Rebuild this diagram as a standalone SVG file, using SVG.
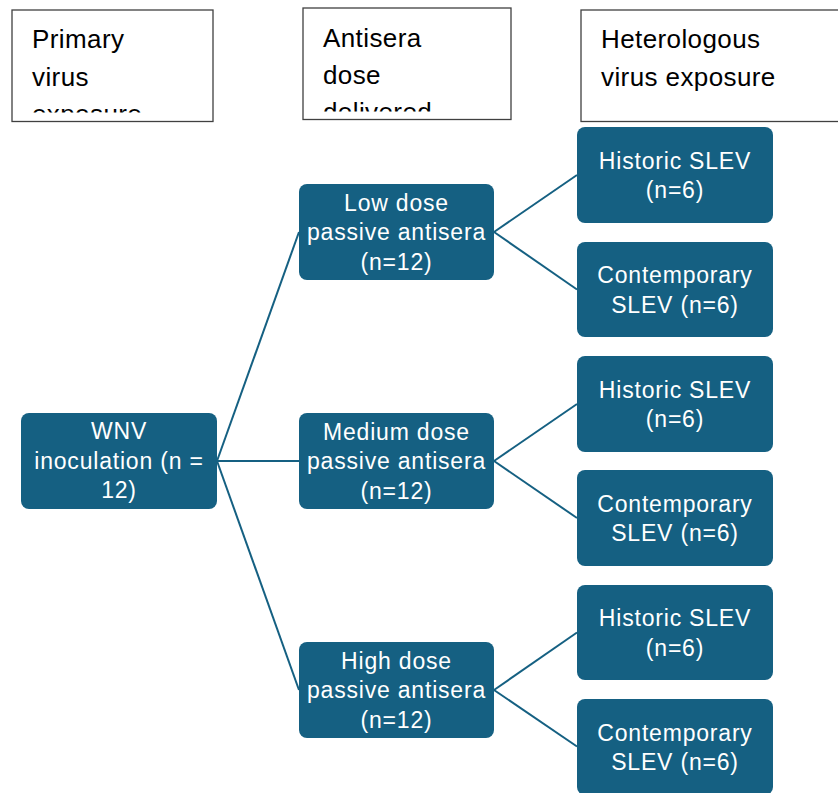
<svg xmlns="http://www.w3.org/2000/svg" width="838" height="793" viewBox="0 0 838 793">
  <style>
    .hdr { fill: #ffffff; stroke: #404040; stroke-width: 1.3; }
    .htxt { font-family: "Liberation Sans", Arial, sans-serif; font-size: 26px; letter-spacing: 0.4px; fill: #000000; }
    .node rect { fill: #156082; }
    .ntxt { font-family: "Liberation Sans", Arial, sans-serif; font-size: 23px; letter-spacing: 0.8px; fill: #ffffff; text-anchor: middle; }
    .conn line { stroke: #156082; stroke-width: 2; }
  </style>
  <defs>
    <clipPath id="clip1"><rect x="12" y="10" width="201" height="102.5"/></clipPath>
    <clipPath id="clip2"><rect x="303" y="8" width="208" height="103.5"/></clipPath>
    <clipPath id="clip3"><rect x="581" y="10" width="257" height="102.5"/></clipPath>
  </defs>

  <g id="header-primary">
    <rect class="hdr" x="12" y="10" width="201" height="111.5"/>
    <text class="htxt" clip-path="url(#clip1)"><tspan x="32" y="48">Primary</tspan><tspan x="32" y="86">virus</tspan><tspan x="32" y="123">exposure</tspan></text>
  </g>
  <g id="header-antisera">
    <rect class="hdr" x="303" y="8" width="208" height="111.5"/>
    <text class="htxt" clip-path="url(#clip2)"><tspan x="323" y="47">Antisera</tspan><tspan x="323" y="84">dose</tspan><tspan x="323" y="121">delivered</tspan></text>
  </g>
  <g id="header-heterologous">
    <rect class="hdr" x="581" y="10" width="262" height="111.5"/>
    <text class="htxt" clip-path="url(#clip3)"><tspan x="601" y="48">Heterologous</tspan><tspan x="601" y="85.5">virus exposure</tspan></text>
  </g>

  <g id="connectors" class="conn">
    <line x1="217" y1="461" x2="299" y2="232"/>
    <line x1="217" y1="461" x2="299" y2="461"/>
    <line x1="217" y1="461" x2="299" y2="690"/>
    <line x1="494" y1="232" x2="577" y2="175"/>
    <line x1="494" y1="232" x2="577" y2="289.5"/>
    <line x1="494" y1="461" x2="577" y2="404"/>
    <line x1="494" y1="461" x2="577" y2="518"/>
    <line x1="494" y1="690" x2="577" y2="632.5"/>
    <line x1="494" y1="690" x2="577" y2="746.5"/>
  </g>

  <g id="wnv" class="node">
    <rect x="21" y="413" width="196" height="96" rx="8"/>
    <text class="ntxt"><tspan x="119" y="439">WNV</tspan><tspan x="119" y="468.5">inoculation (n =</tspan><tspan x="119" y="498">12)</tspan></text>
  </g>

  <g id="low-dose" class="node">
    <rect x="299" y="184" width="195" height="96" rx="8"/>
    <text class="ntxt"><tspan x="396.5" y="210.5">Low dose</tspan><tspan x="396.5" y="240">passive antisera</tspan><tspan x="396.5" y="269.5">(n=12)</tspan></text>
  </g>
  <g id="medium-dose" class="node">
    <rect x="299" y="413" width="195" height="96" rx="8"/>
    <text class="ntxt"><tspan x="396.5" y="439.5">Medium dose</tspan><tspan x="396.5" y="469">passive antisera</tspan><tspan x="396.5" y="498.5">(n=12)</tspan></text>
  </g>
  <g id="high-dose" class="node">
    <rect x="299" y="642" width="195" height="96" rx="8"/>
    <text class="ntxt"><tspan x="396.5" y="668.5">High dose</tspan><tspan x="396.5" y="698">passive antisera</tspan><tspan x="396.5" y="727.5">(n=12)</tspan></text>
  </g>

  <g id="low-historic" class="node">
    <rect x="577" y="127" width="196" height="96" rx="8"/>
    <text class="ntxt"><tspan x="675" y="168.5">Historic SLEV</tspan><tspan x="675" y="198">(n=6)</tspan></text>
  </g>
  <g id="low-contemporary" class="node">
    <rect x="577" y="242" width="196" height="95" rx="8"/>
    <text class="ntxt"><tspan x="675" y="283">Contemporary</tspan><tspan x="675" y="312.5">SLEV (n=6)</tspan></text>
  </g>
  <g id="medium-historic" class="node">
    <rect x="577" y="356" width="196" height="96" rx="8"/>
    <text class="ntxt"><tspan x="675" y="397.5">Historic SLEV</tspan><tspan x="675" y="427">(n=6)</tspan></text>
  </g>
  <g id="medium-contemporary" class="node">
    <rect x="577" y="470" width="196" height="96" rx="8"/>
    <text class="ntxt"><tspan x="675" y="511.5">Contemporary</tspan><tspan x="675" y="541">SLEV (n=6)</tspan></text>
  </g>
  <g id="high-historic" class="node">
    <rect x="577" y="585" width="196" height="95" rx="8"/>
    <text class="ntxt"><tspan x="675" y="626">Historic SLEV</tspan><tspan x="675" y="655.5">(n=6)</tspan></text>
  </g>
  <g id="high-contemporary" class="node">
    <rect x="577" y="699" width="196" height="96" rx="8"/>
    <text class="ntxt"><tspan x="675" y="740.5">Contemporary</tspan><tspan x="675" y="770">SLEV (n=6)</tspan></text>
  </g>
</svg>
